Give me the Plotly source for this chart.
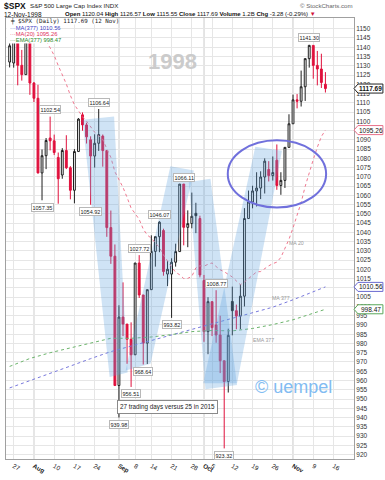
import numpy as np
import pandas as pd
import plotly.graph_objects as go

# ---------------- data (S&P 500 daily, Jul 24 - Nov 12 1998) ----------------
HOLIDAYS = ["1998-09-07"]
dates = ["1998-07-24", "1998-07-27", "1998-07-28", "1998-07-29", "1998-07-30", "1998-07-31",
         "1998-08-03", "1998-08-04", "1998-08-05", "1998-08-06", "1998-08-07",
         "1998-08-10", "1998-08-11", "1998-08-12", "1998-08-13", "1998-08-14",
         "1998-08-17", "1998-08-18", "1998-08-19", "1998-08-20", "1998-08-21",
         "1998-08-24", "1998-08-25", "1998-08-26", "1998-08-27", "1998-08-28",
         "1998-08-31", "1998-09-01", "1998-09-02", "1998-09-03", "1998-09-04",
         "1998-09-08", "1998-09-09", "1998-09-10", "1998-09-11",
         "1998-09-14", "1998-09-15", "1998-09-16", "1998-09-17", "1998-09-18",
         "1998-09-21", "1998-09-22", "1998-09-23", "1998-09-24", "1998-09-25",
         "1998-09-28", "1998-09-29", "1998-09-30", "1998-10-01", "1998-10-02",
         "1998-10-05", "1998-10-06", "1998-10-07", "1998-10-08", "1998-10-09",
         "1998-10-12", "1998-10-13", "1998-10-14", "1998-10-15", "1998-10-16",
         "1998-10-19", "1998-10-20", "1998-10-21", "1998-10-22", "1998-10-23",
         "1998-10-26", "1998-10-27", "1998-10-28", "1998-10-29", "1998-10-30",
         "1998-11-02", "1998-11-03", "1998-11-04", "1998-11-05", "1998-11-06",
         "1998-11-09", "1998-11-10", "1998-11-11", "1998-11-12"]
opens = [1132.0, 1131.5, 1147.27, 1130.24, 1125.21, 1142.95,
         1120.67, 1112.44, 1072.12, 1081.43, 1091.0,
         1089.45, 1080.5, 1071.0, 1084.22, 1074.91,
         1062.75, 1083.67, 1103.5, 1098.06, 1090.0,
         1081.24, 1088.14, 1092.0, 1084.19, 1042.59,
         1027.14, 957.28, 994.26, 990.47, 982.26,
         973.89, 1023.46, 1006.20, 980.19,
         1009.06, 1029.72, 1037.68, 1041.0, 1017.5,
         1017.5, 1023.89, 1029.63, 1066.11, 1042.72,
         1044.75, 1050.3, 1047.5, 1014.0, 986.39,
         1002.60, 990.0, 984.59, 970.68, 959.44,
         1002.7, 997.71, 994.80, 1005.53, 1047.49,
         1056.42, 1062.39, 1063.93, 1069.92, 1074.0,
         1070.67, 1079.0, 1065.34, 1068.09, 1085.93,
         1098.67, 1111.60, 1110.84, 1118.67, 1133.85,
         1141.01, 1130.20, 1128.26, 1120.04]
highs = [1150.14, 1147.37, 1147.27, 1138.56, 1142.95, 1142.97,
         1121.21, 1119.73, 1084.80, 1090.96, 1102.54,
         1092.82, 1083.14, 1085.5, 1092.48, 1075.79,
         1085.0, 1101.72, 1104.8, 1099.2, 1091.9,
         1093.0, 1106.64, 1092.85, 1084.19, 1051.8,
         1033.47, 1000.6, 1013.0, 990.47, 991.41,
         1023.46, 1027.72, 1006.20, 1009.06,
         1038.42, 1037.9, 1046.07, 1042.0, 1024.5,
         1026.0, 1033.9, 1066.09, 1066.11, 1051.9,
         1061.5, 1056.0, 1049.02, 1017.01, 1005.0,
         1002.60, 1008.77, 995.0, 970.68, 988.0,
         1010.7, 1001.0, 1012.0, 1053.1, 1062.6,
         1065.2, 1072.5, 1073.0, 1080.0, 1078.48,
         1081.0, 1087.5, 1072.5, 1086.0, 1103.8,
         1114.4, 1114.7, 1127.4, 1133.9, 1141.30,
         1141.01, 1138.0, 1136.5, 1126.57]
lows = [1129.11, 1128.98, 1119.44, 1121.98, 1125.21, 1114.30,
        1110.39, 1071.82, 1057.35, 1074.18, 1084.29,
        1081.76, 1055.5, 1068.98, 1074.2, 1057.85,
        1055.7, 1083.67, 1094.9, 1088.0, 1054.92,
        1075.0, 1084.0, 1075.5, 1037.61, 1023.0,
        957.18, 939.98, 984.0, 969.0, 956.51,
        973.89, 1004.56, 968.64, 968.9,
        1009.06, 1021.5, 1029.3, 1016.6, 1011.0,
        993.82, 1021.5, 1029.63, 1033.0, 1032.0,
        1042.2, 1039.6, 1015.7, 980.9, 974.2,
        984.0, 980.4, 964.0, 923.32, 953.5,
        984.4, 987.7, 987.7, 1000.0, 1047.49,
        1053.0, 1054.0, 1058.0, 1061.0, 1067.5,
        1068.0, 1063.0, 1060.3, 1064.0, 1085.93,
        1098.67, 1107.0, 1108.0, 1111.0, 1129.0,
        1123.0, 1119.4, 1118.0, 1115.55]
closes = [1140.80, 1147.27, 1130.24, 1125.21, 1142.95, 1120.67,
          1112.44, 1072.12, 1081.43, 1089.63, 1089.45,
          1083.14, 1068.98, 1084.22, 1074.91, 1062.75,
          1083.67, 1101.20, 1098.06, 1091.60, 1081.24,
          1088.14, 1092.85, 1084.19, 1042.59, 1027.14,
          957.28, 994.26, 990.47, 982.26, 973.89,
          1023.46, 1006.20, 980.19, 1009.06,
          1029.72, 1037.68, 1045.48, 1018.87, 1020.09,
          1023.89, 1029.63, 1066.09, 1042.72, 1044.75,
          1048.69, 1049.02, 1017.01, 986.39, 1002.60,
          988.56, 984.59, 970.68, 959.44, 984.39,
          997.71, 994.80, 1005.53, 1047.49, 1056.42,
          1062.39, 1063.93, 1069.92, 1078.48, 1070.67,
          1072.32, 1065.34, 1068.09, 1085.93, 1098.67,
          1111.60, 1110.84, 1118.67, 1133.85, 1141.01,
          1130.20, 1128.26, 1120.97, 1117.69]
# closes before the window (Jun 29 - Jul 23), used for MA(20) and bar colour
prior_closes = [1138.49, 1133.84, 1148.56, 1146.42, 1157.33, 1154.66, 1166.38,
                1158.56, 1164.33, 1165.19, 1177.69, 1174.81, 1183.99, 1186.75,
                1184.10, 1165.07, 1164.08, 1139.75]

# long averages
ma377_dates = ["1998-07-24", "1998-07-31", "1998-08-07", "1998-08-14", "1998-08-21", "1998-08-28",
               "1998-09-04", "1998-09-14", "1998-09-21", "1998-09-28", "1998-10-05", "1998-10-12",
               "1998-10-19", "1998-10-26", "1998-11-02", "1998-11-09", "1998-11-12"]
ma377_vals = [956.0, 959.8, 963.8, 967.8, 971.8, 975.6, 978.6, 981.6, 984.6, 987.6, 990.4, 993.2,
              996.2, 999.6, 1003.6, 1007.8, 1010.56]
ema377_vals = [967.6, 971.9, 975.0, 977.6, 980.5, 982.8, 982.8, 983.5, 984.8, 986.4, 987.0, 986.8,
               988.1, 990.2, 992.8, 996.4, 998.47]

tick_dates = ["1998-07-27", "1998-08-03", "1998-08-10", "1998-08-17", "1998-08-24", "1998-09-01",
              "1998-09-08", "1998-09-14", "1998-09-21", "1998-09-28", "1998-10-01", "1998-10-05",
              "1998-10-12", "1998-10-19", "1998-10-26", "1998-11-02", "1998-11-09", "1998-11-16"]
tick_text = ["27", "<b>Aug</b>", "10", "17", "24", "<b>Sep</b>", "8", "14", "21", "28",
             "<b>Oct</b>", "5", "12", "19", "26", "<b>Nov</b>", "9", "16"]
month_dates = ["1998-08-03", "1998-09-01", "1998-10-01", "1998-11-02"]
y_ticks = list(range(920, 1151, 5))

label_dates = ["1998-08-07", "1998-08-05", "1998-08-25", "1998-08-21", "1998-09-16", "1998-09-24",
               "1998-09-09", "1998-09-21", "1998-10-06", "1998-09-10", "1998-09-04", "1998-09-01",
               "1998-10-08", "1998-11-06"]
label_vals = [1102.54, 1057.35, 1106.64, 1054.92, 1046.07, 1066.11, 1027.72, 993.82, 1008.77,
              968.64, 956.51, 939.98, 923.32, 1141.30]
label_side = ["hi", "lo", "hi", "lo", "hi", "hi", "hi", "lo", "hi", "lo", "lo", "lo", "lo", "hi"]

# ---------------- helpers ----------------
def pos_of(d):
    return int(np.busday_count("1998-07-27", d, holidays=HOLIDAYS))

X0, X1 = -1.9, 84.06
Y0, Y1 = 917.6, 1155.8
W, H = 385, 480
L, R, T, B = 5, 31, 18, 13
PW, PH = W - L - R, H - T - B

def px(x):
    return (x - L) / PW

def py(y):
    return (H - B - y) / PH

def pyv(v):
    return (v - Y0) / (Y1 - Y0)

FONT = "Liberation Sans, Arial, sans-serif"
x = np.array([pos_of(d) for d in dates])
o, h, l, c = map(np.array, (opens, highs, lows, closes))
prev = np.array([prior_closes[-1]] + closes[:-1])

s = pd.Series(prior_closes + closes)
ma20 = s.rolling(20).mean().iloc[len(prior_closes):].to_numpy()

fig = go.Figure()

fig.add_trace(go.Scatter(x=[pos_of(d) for d in ma377_dates], y=ma377_vals, mode="lines",
                         line=dict(color="#7878dc", width=1, dash="dot"), hoverinfo="skip"))
fig.add_trace(go.Scatter(x=[pos_of(d) for d in ma377_dates], y=ema377_vals, mode="lines",
                         line=dict(color="#6cb46c", width=1, dash="dot"), hoverinfo="skip"))
fig.add_trace(go.Scatter(x=x, y=ma20, mode="lines",
                         line=dict(color="#f07890", width=1, dash="dot"), hoverinfo="skip"))

for up, col in [(True, "#1e1e1e"), (False, "#e0103c")]:
    m = (c >= prev) if up else (c < prev)
    fig.add_trace(go.Candlestick(
        x=x[m], open=o[m], high=h[m], low=l[m], close=c[m],
        increasing=dict(line=dict(color=col, width=1), fillcolor="white"),
        decreasing=dict(line=dict(color=col, width=1), fillcolor=col),
        whiskerwidth=0, hoverinfo="skip", showlegend=False))

shapes = []
# month separators
for d in month_dates:
    shapes.append(dict(type="line", xref="x", yref="paper", x0=pos_of(d), x1=pos_of(d), y0=0, y1=1,
                       line=dict(color="#c4c4c4", width=1), layer="below"))

# "W" strokes (decoration, chart coordinates)
STROKES = [
    [(17.0, 1100.8), (24.8, 1102.6), (28.15, 964.3), (23.7, 961.9)],
    [(27.66, 965.4), (33.8, 969.1), (44.5, 1073.4), (38.7, 1075.7)],
    [(43.25, 1067.2), (48.6, 1069.0), (55.17, 957.6), (47.36, 955.3)],
    [(46.8, 958.5), (55.17, 958.5), (66.26, 1084.1), (59.68, 1086.2)],
]
for poly in STROKES:
    path = "M " + " L ".join(f"{a},{b}" for a, b in poly) + " Z"
    shapes.append(dict(type="path", xref="x", yref="y", path=path,
                       fillcolor="rgba(95,162,222,0.30)", line=dict(width=0), layer="above"))
# ellipse
shapes.append(dict(type="circle", xref="x", yref="y", x0=52.88, x1=77.17, y0=1053.44, y1=1089.73,
                   line=dict(color="#7070dc", width=2), fillcolor="rgba(0,0,0,0)", layer="above"))
# legend box background
shapes.append(dict(type="rect", xref="paper", yref="paper", x0=px(5.5), x1=px(58), y0=py(44), y1=py(18.5),
                   fillcolor="white", line=dict(width=0), layer="above"))
shapes.append(dict(type="rect", xref="paper", yref="paper", x0=px(5.5), x1=px(116), y0=py(24.5), y1=py(18.5),
                   fillcolor="white", line=dict(width=0), layer="above"))

ann = []
# right value tags
tags = [(1117.69, "#222222", True), (1095.26, "#e8708a", False), (1010.56, "#6a6ad0", False),
        (998.47, "#5aa85a", False)]
for v, col, bold in tags:
    yc = pyv(v)
    hh = 4.6 / PH
    xa, xb, xc = 1.0, 1.0 + 4 / PW, 1.0 + 29 / PW
    path = (f"M {xa},{yc} L {xb},{yc+hh} L {xc},{yc+hh} L {xc},{yc-hh} L {xb},{yc-hh} Z")
    shapes.append(dict(type="path", xref="paper", yref="paper", path=path,
                       fillcolor="white", line=dict(color=col, width=1), layer="above"))
    txt = f"<b>{v:.2f}</b>" if bold else f"{v:.2f}"
    ann.append(dict(xref="paper", yref="paper", x=1.0 + 17 / PW, y=yc, text=txt, showarrow=False,
                    xanchor="center", yanchor="middle", font=dict(size=6.5, color="#111", family=FONT)))

# high / low labels
for d, v, sd in zip(label_dates, label_vals, label_side):
    ann.append(dict(xref="x", yref="y", x=pos_of(d), y=v, text=f"{v:.2f}", showarrow=False,
                    yshift=7 if sd == "hi" else -7, xanchor="center", yanchor="middle",
                    font=dict(size=5.5, color="#222", family=FONT), bgcolor="white",
                    bordercolor="#b8b8b8", borderwidth=1, borderpad=0.5))

def text(xp, yp, t, size, color="#222", anchor="left", family=FONT, **kw):
    ann.append(dict(xref="paper", yref="paper", x=px(xp), y=py(yp), text=t, showarrow=False,
                    xanchor=anchor, yanchor="middle", font=dict(size=size, color=color, family=family), **kw))

# header
text(1, 5.5, "<b>$SPX</b>", 8.5, "#111")
text(27, 5.5, "S&P 500 Large Cap Index INDX", 6.2, "#222")
text(355, 5.5, "© StockCharts.com", 6.1, "#666", anchor="right")
text(1, 14, "12-Nov-1998", 6.5, "#111")
text(318, 14, "<b>Open</b> 1120.04 <b>High</b> 1126.57 <b>Low</b> 1115.55 <b>Close</b> 1117.69 "
              "<b>Volume</b> 1.2B <b>Chg</b> -3.28 (-0.29%) <span style='color:#d0103a'>▼</span>",
     6.0, "#111", anchor="right")
# in-plot legend
text(7, 21.5, "╪ $SPX (Daily) 1117.69 (12 Nov)", 5.8, "#222", family="DejaVu Sans Mono, monospace")
text(7, 28, "···MA(377) 1010.56", 5.8, "#4040c0")
text(7, 34.2, "···MA(20) 1095.26", 5.8, "#e0305a")
text(7, 40.4, "···EMA(377) 998.47", 5.8, "#2a8a2a")
# indicator captions
text(296, 247, "MA 20", 5.2, "#999", anchor="center")
text(281, 303, "MA 377", 5.2, "#999", anchor="center")
text(263, 346, "EMA 377", 5.2, "#999", anchor="center")
# watermarks / notes
text(172, 62, "<b>1998</b>", 22, "#cbcbcb", anchor="center")
text(293, 394, "© uempel", 18, "#82bcf2", anchor="center")
text(167, 414.5, "27 trading days versus 25 in 2015", 6.3, "#222", anchor="center",
     bgcolor="white", bordercolor="#8a8a8a", borderwidth=1, borderpad=2)

fig.update_layout(
    width=W, height=H, margin=dict(l=L, r=R, t=T, b=B),
    paper_bgcolor="white", plot_bgcolor="white", showlegend=False,
    shapes=shapes, annotations=ann, boxgap=0.35,
    xaxis=dict(range=[X0, X1], tickvals=[pos_of(d) for d in tick_dates], ticktext=tick_text,
               showgrid=True, gridcolor="#e6e6e6", gridwidth=1, zeroline=False,
               tickfont=dict(size=6.3, color="#222", family=FONT), ticks="",
               showline=True, linecolor="#a0a0a0", linewidth=1, mirror=True,
               rangeslider=dict(visible=False), fixedrange=True),
    yaxis=dict(range=[Y0, Y1], side="right", tickvals=y_ticks, ticktext=[str(v) for v in y_ticks],
               showgrid=True, gridcolor="#e6e6e6", gridwidth=1, zeroline=False,
               tickfont=dict(size=6.5, color="#333", family=FONT), ticks="",
               showline=True, linecolor="#a0a0a0", linewidth=1, mirror=True, fixedrange=True),
)

fig.write_html("out.html", config={"displayModeBar": False},
               post_script="document.body.style.margin='0';document.body.style.overflow='hidden';")
